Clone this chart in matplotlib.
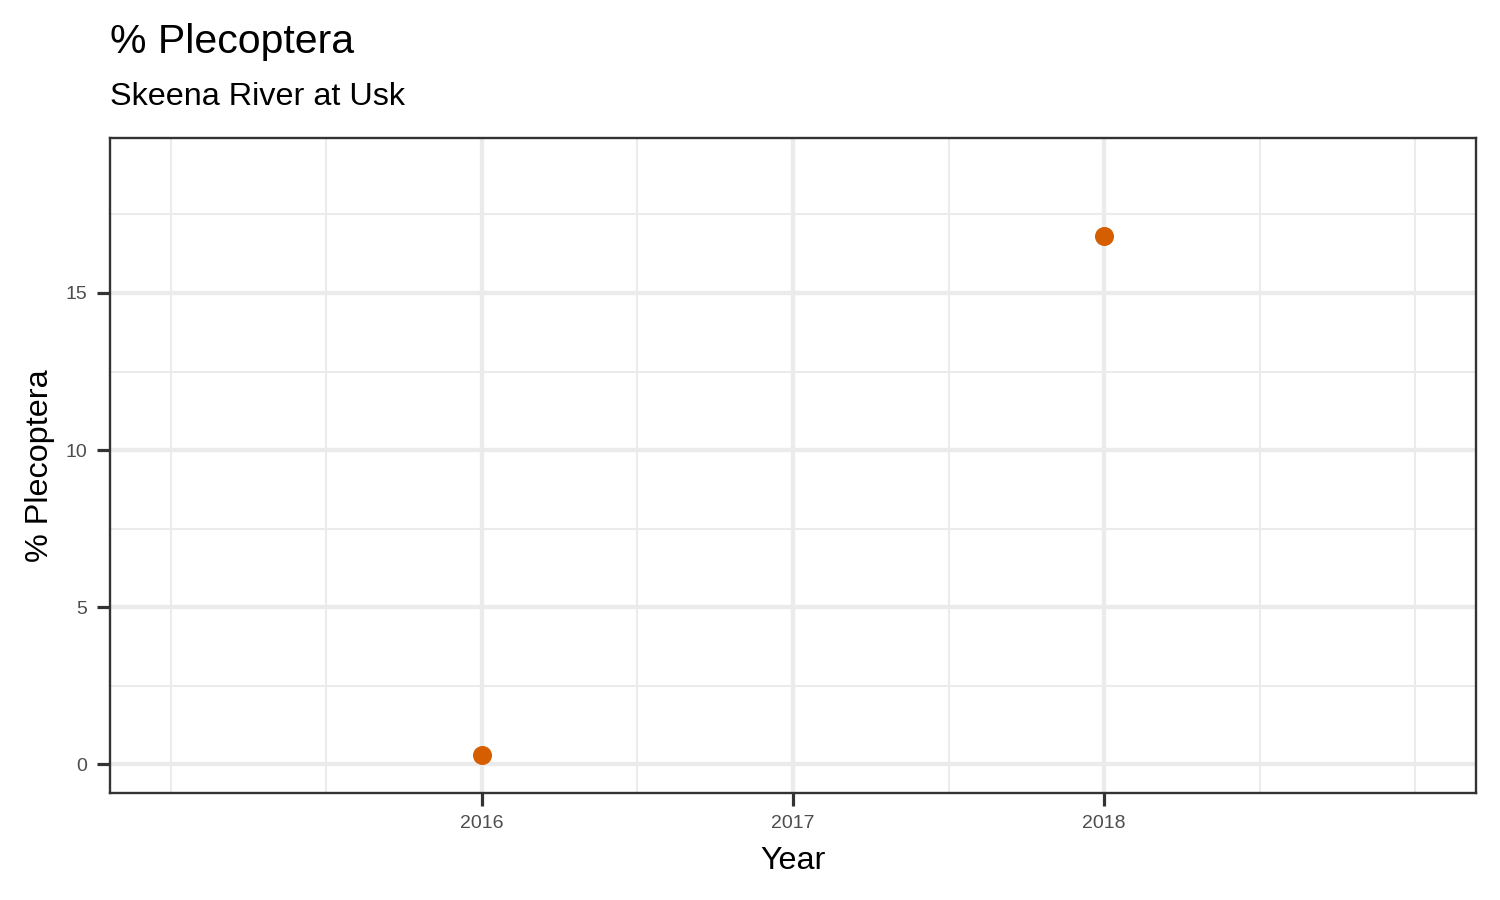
import matplotlib
matplotlib.use('Agg')
import matplotlib.pyplot as plt

plt.rcParams['font.family'] = ['Liberation Sans', 'DejaVu Sans']

# data
years = [2016, 2018]
pct_plecoptera = [0.3, 16.8]

x_major = [2016, 2017, 2018]
x_minor = [2015, 2015.5, 2016.5, 2017.5, 2018.5, 2019]
y_major = [0, 5, 10, 15]
y_minor = [2.5, 7.5, 12.5, 17.5]

title = '% Plecoptera'
subtitle = 'Skeena River at Usk'
x_title = 'Year'
y_title = '% Plecoptera'

W, H = 1500, 900
fig = plt.figure(figsize=(15, 9), dpi=100)
ax = fig.add_axes([110 / W, 1 - 793 / H, (1476 - 110) / W, (793 - 138) / H])

ax.set_xlim(2014.804, 2019.196)
ax.set_ylim(-0.91, 19.93)

# grid (ggplot theme_bw look)
grid_col = '#EBEBEB'
for v in x_minor:
    ax.axvline(v, color=grid_col, lw=1.5, zorder=0)
for v in y_minor:
    ax.axhline(v, color=grid_col, lw=1.5, zorder=0)
for v in x_major:
    ax.axvline(v, color=grid_col, lw=3.1, zorder=0)
for v in y_major:
    ax.axhline(v, color=grid_col, lw=3.1, zorder=0)

ax.plot(years, pct_plecoptera, 'o', color='#D55E00', markersize=13.7,
        markeredgewidth=0, zorder=3)

ax.set_xticks(x_major)
ax.set_xticklabels([str(y) for y in x_major])
ax.set_yticks(y_major)
ax.set_yticklabels([str(y) for y in y_major])
ax.tick_params(axis='both', length=9.4, width=2.3, color='#333333',
               labelcolor='#4D4D4D', labelsize=14)
ax.tick_params(axis='x', pad=6.5)
ax.tick_params(axis='y', pad=7.2)

for s in ax.spines.values():
    s.set_color('#333333')
    s.set_linewidth(1.7)

fig.text(110 / W, 1 - 52.7 / H, title, fontsize=29.5, ha='left', va='baseline')
fig.text(110 / W, 1 - 105 / H, subtitle, fontsize=23.3, ha='left', va='baseline')
fig.text((110 + 1476) / 2 / W, 1 - 869 / H, x_title, fontsize=23.3,
         ha='center', va='baseline')
fig.text(48 / W, 1 - 465.5 / H, y_title, fontsize=23.3, rotation=90,
         rotation_mode='anchor', ha='center', va='baseline')

fig.savefig('out.png', dpi=100, facecolor='white')
